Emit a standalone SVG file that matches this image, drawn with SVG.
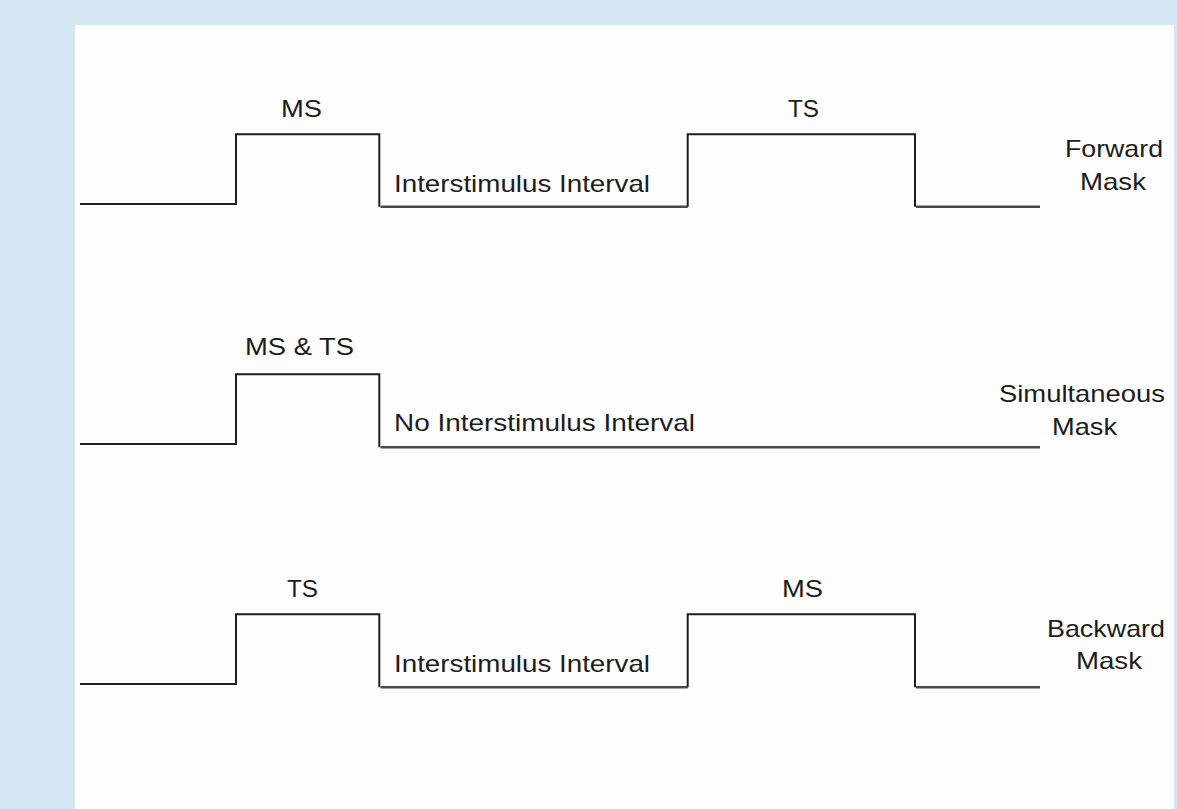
<svg xmlns="http://www.w3.org/2000/svg" width="1177" height="809" viewBox="0 0 1177 809">
<style>
.t{font-family:"Liberation Sans",Arial,sans-serif;font-size:24px;fill:#1c1c1c}
.m{text-anchor:middle}
.w{fill:none;stroke:#1e1e1e;stroke-width:2;stroke-linejoin:miter}
.b{fill:none;stroke:#4a4a4a;stroke-width:2.4}
</style>
<rect x="0" y="0" width="1177" height="809" fill="#d4e6f1"/>
<rect x="75" y="25" width="1099" height="784" fill="#fdfdfd"/>
<g id="connectors">
<path class="w" d="M80,204 H236 V134.3 H379.3 V206.7"/>
<path class="b" d="M380.5,206.7 H687.7"/>
<path class="w" d="M687.7,206.7 V134.3 H915 V206.7"/>
<path class="b" d="M916,206.7 H1040"/>
<path class="w" d="M80,444 H236 V374.3 H379.3 V447.3"/>
<path class="b" d="M380.5,447.3 H1040"/>
<path class="w" d="M80,684 H236 V614.3 H379.3 V687.3"/>
<path class="b" d="M380.5,687.3 H687.7"/>
<path class="w" d="M687.7,687.3 V614.3 H915 V687.3"/>
<path class="b" d="M916,687.3 H1040"/>
</g>
<g id="forward">
<text class="t" x="281" y="116.5" textLength="41" lengthAdjust="spacingAndGlyphs">MS</text>
<text class="t" x="788" y="116.5" textLength="31" lengthAdjust="spacingAndGlyphs">TS</text>
<text class="t" x="394" y="192" textLength="256" lengthAdjust="spacingAndGlyphs">Interstimulus Interval</text>
<text class="t" x="1065" y="157" textLength="98" lengthAdjust="spacingAndGlyphs">Forward</text>
<text class="t" x="1080" y="190" textLength="66" lengthAdjust="spacingAndGlyphs">Mask</text>
</g>
<g id="simultaneous">
<text class="t" x="245" y="355" textLength="109" lengthAdjust="spacingAndGlyphs">MS &amp; TS</text>
<text class="t" x="394" y="431" textLength="301" lengthAdjust="spacingAndGlyphs">No Interstimulus Interval</text>
<text class="t" x="999" y="402" textLength="166" lengthAdjust="spacingAndGlyphs">Simultaneous</text>
<text class="t" x="1052" y="435" textLength="65" lengthAdjust="spacingAndGlyphs">Mask</text>
</g>
<g id="backward">
<text class="t" x="287" y="596.5" textLength="31" lengthAdjust="spacingAndGlyphs">TS</text>
<text class="t" x="782" y="596.5" textLength="41" lengthAdjust="spacingAndGlyphs">MS</text>
<text class="t" x="394" y="672" textLength="256" lengthAdjust="spacingAndGlyphs">Interstimulus Interval</text>
<text class="t" x="1047" y="637" textLength="118" lengthAdjust="spacingAndGlyphs">Backward</text>
<text class="t" x="1076" y="669" textLength="66" lengthAdjust="spacingAndGlyphs">Mask</text>
</g>
</svg>
